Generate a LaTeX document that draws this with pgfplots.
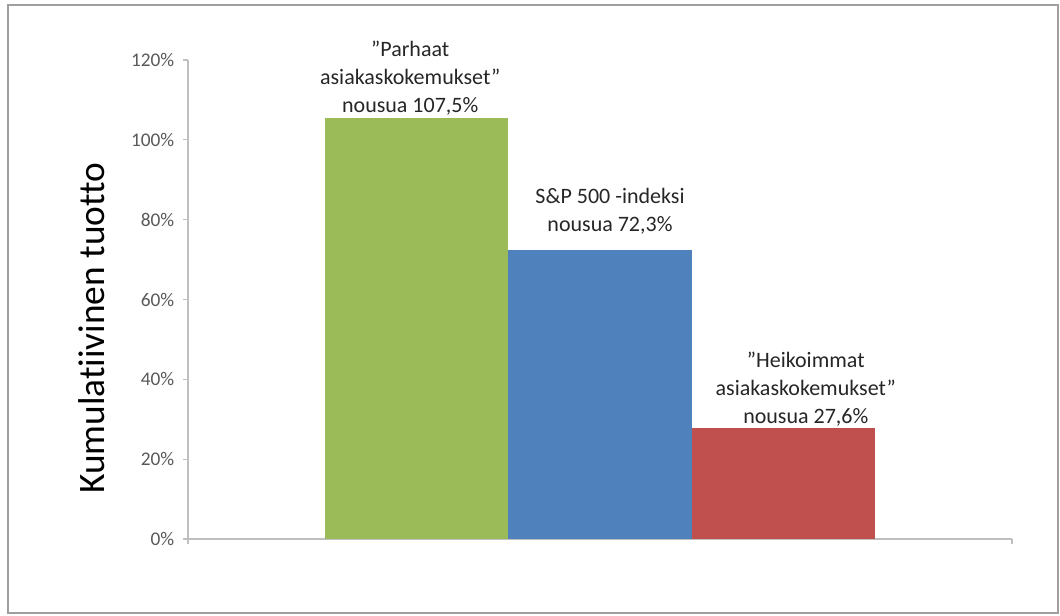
\documentclass[border=0pt]{standalone}
\usepackage{fontspec}
\setmainfont{Carlito}[Ligatures=NoCommon]
\usepackage{pgfplots}
\pgfplotsset{compat=1.18}
\definecolor{cgreen}{HTML}{9BBB59}
\definecolor{cblue}{HTML}{4F81BD}
\definecolor{cred}{HTML}{C0504D}
\definecolor{axgray}{HTML}{BFBFBF}
\definecolor{tickgray}{HTML}{595959}
\definecolor{labgray}{HTML}{262626}
\begin{document}
\begin{tikzpicture}
\path[use as bounding box] (0,0) rectangle (795pt,461.25pt);
\draw[line width=1pt, draw=gray!75] (6pt,1.5pt) rectangle (793.5pt,457.5pt);
\begin{axis}[
  at={(141pt,57pt)}, anchor=south west,
  scale only axis,
  width=618pt, height=359.25pt,
  xmin=-1.25, xmax=3.25,
  ymin=0, ymax=120,
  axis x line*=bottom, axis y line*=left,
  axis line style={draw=axgray, line width=0.8pt},
  xtick={-1.25,3.25}, xticklabels={,},
  ytick={0,20,40,60,80,100,120},
  yticklabel={\pgfmathprintnumber{\tick}\%},
  /pgf/number format/assume math mode=true,
  tick align=outside,
  major tick length=3.75pt,
  tick style={draw=axgray, line width=0.8pt},
  yticklabel style={font=\fontsize{14.5}{16}\selectfont, text=tickgray, xshift=-3pt},
  ylabel={Kumulatiivinen tuotto},
  ylabel style={at={(axis description cs:-0.1165,0.44)}, anchor=center, rotate=0, font=\fontsize{28}{31}\selectfont, text=black},
  ybar,
  bar width=137.33pt,
  nodes near coords style={font=\fontsize{16.5}{21}\selectfont, text=labgray, align=center, anchor=south, inner sep=1.5pt},
  clip=false,
]
\addplot[ybar, bar shift=0pt, fill=cgreen, draw=none,
  nodes near coords={”Parhaat\\asiakaskokemukset”\\nousua 107,5\%},
  nodes near coords style={xshift=-5pt}]
  coordinates {(0,105.5)};
\addplot[ybar, bar shift=0pt, fill=cblue, draw=none,
  nodes near coords={S\&P 500 -indeksi\\nousua 72,3\%},
  nodes near coords style={xshift=7.5pt, yshift=10.5pt}]
  coordinates {(1,72.3)};
\addplot[ybar, bar shift=0pt, fill=cred, draw=none,
  nodes near coords={”Heikoimmat\\asiakaskokemukset”\\nousua 27,6\%},
  nodes near coords style={xshift=17pt}]
  coordinates {(2,27.7)};
\end{axis}
\end{tikzpicture}
\end{document}
